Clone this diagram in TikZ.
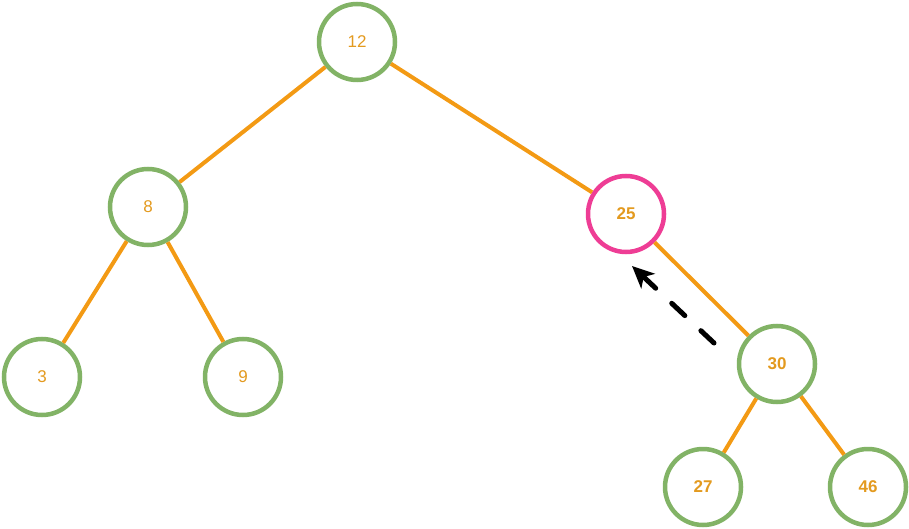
\documentclass[tikz,border=0pt]{standalone}
\usepackage{fontspec}
\setmainfont{Liberation Sans}
\usetikzlibrary{arrows.meta}
\definecolor{edgeor}{HTML}{F39A14}
\definecolor{txtor}{HTML}{E39A1F}
\definecolor{grn}{HTML}{82B366}
\definecolor{pnk}{HTML}{EE3D95}
\tikzset{
  nd/.style={circle, draw=grn, line width=4.5pt, minimum size=76pt, inner sep=0pt, text=txtor, font=\fontsize{17}{19}\selectfont},
  bnd/.style={nd, font=\fontsize{17}{19}\selectfont\bfseries},
  hl/.style={bnd, draw=pnk},
  ed/.style={draw=edgeor, line width=4pt},
  mv/.style={draw=black, line width=5pt, dash pattern=on 18pt off 22pt, line cap=round, -{Stealth[length=22pt,width=20pt,inset=6pt]}}
}
\begin{document}
\begin{tikzpicture}[x=1pt,y=-1pt]
\useasboundingbox (0,0) rectangle (909,529);
\node[nd] (n12) at (357,42) {12};
\node[nd] (n8) at (148,207) {8};
\node[hl] (n25) at (626,214) {25};
\node[nd] (n3) at (42,377) {3};
\node[nd] (n9) at (243,377) {9};
\node[bnd] (n30) at (777,364) {30};
\node[bnd] (n27) at (703,487) {27};
\node[bnd] (n46) at (868,487) {46};
\draw[ed] (n12) -- (n8);
\draw[ed] (n12) -- (n25);
\draw[ed] (n8) -- (n3);
\draw[ed] (n8) -- (n9);
\draw[ed] (n25) -- (n30);
\draw[ed] (n30) -- (n27);
\draw[ed] (n30) -- (n46);
\coordinate (as) at (714,343);
\coordinate (ae) at (632,266);
\draw[mv] (as) -- (ae);
\end{tikzpicture}
\end{document}
